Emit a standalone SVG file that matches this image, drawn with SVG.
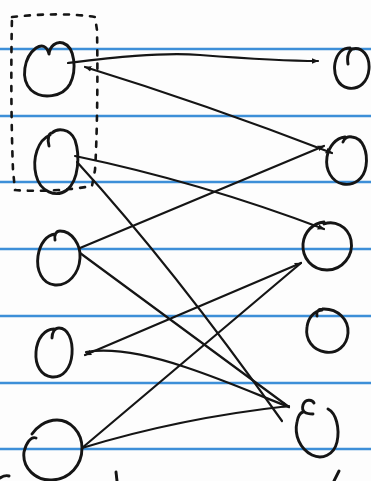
<svg xmlns="http://www.w3.org/2000/svg" width="371" height="481" viewBox="0 0 371 481">
<defs>
<style>
.rule{stroke:#3d8fd8;stroke-width:2.6;fill:none}
.ink{stroke:#151515;stroke-width:2.9;fill:none;stroke-linecap:round;stroke-linejoin:round}
.wire{stroke:#151515;stroke-width:2.2;fill:none;stroke-linecap:round}
.dash{stroke:#151515;stroke-width:2.6;fill:none;stroke-dasharray:5 8;stroke-linecap:round}
</style>
<marker id="ah" viewBox="0 0 10 10" refX="9" refY="5" markerWidth="7" markerHeight="7" markerUnits="userSpaceOnUse" orient="auto-start-reverse">
<path d="M0,1 L10,5 L0,9 z" fill="#151515"/>
</marker>
</defs>
<rect x="0" y="0" width="371" height="481" fill="#fdfdfd"/>
<g id="paper-lines">
<line class="rule" x1="0" y1="49" x2="371" y2="49"/>
<line class="rule" x1="0" y1="116" x2="371" y2="116"/>
<line class="rule" x1="0" y1="182" x2="371" y2="182"/>
<line class="rule" x1="0" y1="249" x2="371" y2="249"/>
<line class="rule" x1="0" y1="316" x2="371" y2="316"/>
<line class="rule" x1="0" y1="383" x2="371" y2="383"/>
<line class="rule" x1="0" y1="449" x2="371" y2="449"/>
</g>
<g id="group-box">
<path class="dash" d="M12,17 C40,14 70,13 95,17 L97,30 C98,80 97,140 95,170 L92,186 C70,190 40,192 15,190 L13,170 C11,120 11,60 12,17"/>
</g>
<g id="connectors">
<path class="wire" d="M68,63 C110,58 160,52 200,55 C240,58 280,61 318,61" marker-end="url(#ah)"/>
<path class="wire" d="M85,67 Q205,104 332,153" marker-start="url(#ah)" marker-end="url(#ah)"/>
<path class="wire" d="M75,156 Q200,182 324,229" marker-end="url(#ah)"/>
<path class="wire" d="M77,162 Q172,266 282,421"/>
<path class="wire" d="M80,248 L324,146" marker-end="url(#ah)"/>
<path class="wire" d="M80,253 L289,407"/>
<path class="wire" d="M85,355 L301,263" marker-start="url(#ah)" marker-end="url(#ah)"/>
<path class="wire" d="M86,352 C110,348 140,352 185,367 C230,382 265,398 289,407" marker-end="url(#ah)"/>
<path class="wire" d="M82,448 L301,263"/>
<path class="wire" d="M82,448 Q180,418 289,406"/>
</g>
<g id="L1"><path class="ink" d="M49,54 C50,46 56,41 63,43 C75,47 77,70 70,84 C63,97 42,100 31,90 C20,79 24,57 36,48 C42,44 47,46 49,54"/></g>
<g id="L2"><path class="ink" d="M49,146 C47,138 49,133 52,133 C57,128 70,128 75,140 C80,155 79,180 67,190 C56,198 40,192 36,175 C32,158 38,140 50,135"/></g>
<g id="L3"><path class="ink" d="M55,240 C54,235 56,231 60,231 C72,231 81,245 80,258 C79,274 68,286 55,285 C42,284 36,270 38,256 C40,243 47,235 55,234"/></g>
<g id="L4"><path class="ink" d="M52,338 C52,332 55,328 59,328 C68,328 73,340 72,354 C71,368 63,378 52,377 C41,376 35,365 36,352 C37,338 45,329 54,329"/></g>
<g id="L5"><path class="ink" d="M36,438 C31,436 26,443 24,452 C22,468 36,481 52,480 C70,479 82,465 82,448 C82,432 70,420 57,420 C45,420 36,428 32,434"/></g>
<g id="R1"><path class="ink" d="M348,64 C347,58 348,52 352,49 C362,46 370,56 369,69 C368,82 359,90 348,88 C338,86 333,75 335,63 C337,53 343,48 350,48"/></g>
<g id="R2"><path class="ink" d="M343,142 C344,138 348,136 352,137 C363,138 368,152 366,166 C364,179 354,186 343,184 C332,182 325,170 327,157 C329,146 336,138 345,137"/></g>
<g id="R3"><path class="ink" d="M324,224 C334,220 348,226 351,240 C354,256 342,270 327,270 C312,270 302,258 303,244 C304,232 313,223 324,222"/></g>
<g id="R4"><path class="ink" d="M317,316 C316,312 318,309 322,309 C338,308 349,320 348,333 C347,346 337,354 325,352 C313,350 305,340 307,327 C308,318 314,311 322,310"/></g>
<g id="R5"><path class="ink" d="M313,414 C306,414 301,412 303,405 C305,399 312,399 314,403"/><path class="ink" d="M328,409 C336,413 340,428 337,442 C334,455 322,460 312,455 C300,449 294,435 297,422 C298,416 300,413 303,412"/></g>
<g id="marks">
<path class="ink" d="M116,472 L117,481"/>
<path class="ink" d="M339,471 L334,481"/>
<path class="ink" d="M0,478 C3,476 6,475 9,476"/>
</g>
</svg>
